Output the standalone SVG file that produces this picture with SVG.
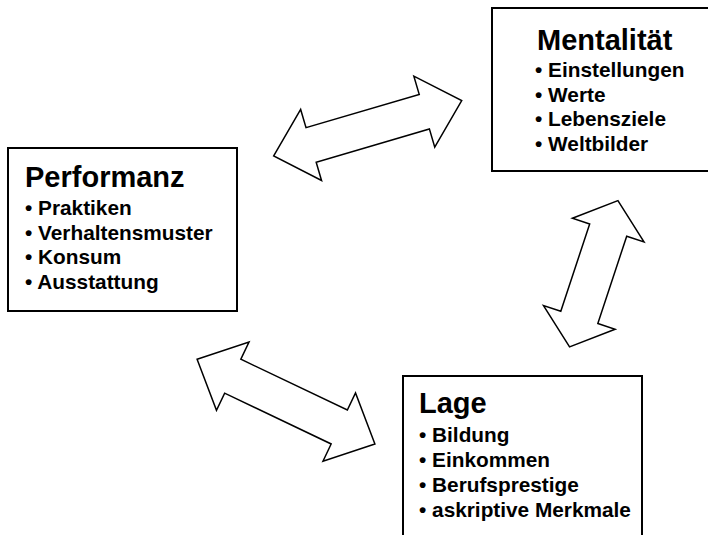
<svg xmlns="http://www.w3.org/2000/svg" width="708" height="535" viewBox="0 0 708 535">
<style>
.box{fill:#fff;stroke:#000;stroke-width:2}
.arr{fill:#fff;stroke:#000;stroke-width:1.5;stroke-linejoin:miter}
text{font-family:"Liberation Sans",Arial,sans-serif;font-weight:bold;fill:#000}
.h{font-size:29px}
.i{font-size:20.8px}
</style>
<rect width="708" height="535" fill="#fff"/>
<g id="connectors">
<polygon class="arr" transform="translate(367.7,128.3) rotate(-16.4)" points="-98,0 -59,-37 -59,-18 59,-18 59,-37 98,0 59,37 59,18 -59,18 -59,37"/>
<polygon class="arr" transform="translate(593.75,273.75) rotate(-71.7)" points="-77,0 -46,-37.7 -46,-19.5 46,-19.5 46,-37.7 77,0 46,37.7 46,19.5 -46,19.5 -46,37.7"/>
<polygon class="arr" transform="translate(286,401.6) rotate(25.5)" points="-98.5,0 -59,-37.8 -59,-18.8 59,-18.8 59,-37.8 98.5,0 59,37.8 59,18.8 -59,18.8 -59,37.8"/>
</g>
<g id="mentalitaet">
<rect class="box" x="492" y="8" width="230" height="163"/>
<text class="h" x="537" y="50">Mentalität</text>
<text class="i" x="535" y="77">• Einstellungen</text>
<text class="i" x="535" y="101.5">• Werte</text>
<text class="i" x="535" y="126">• Lebensziele</text>
<text class="i" x="535" y="150.5">• Weltbilder</text>
</g>
<g id="performanz">
<rect class="box" x="8" y="148" width="229" height="163"/>
<text class="h" x="25" y="187">Performanz</text>
<text class="i" x="25" y="215">• Praktiken</text>
<text class="i" x="25" y="239.5">• Verhaltensmuster</text>
<text class="i" x="25" y="264">• Konsum</text>
<text class="i" x="25" y="288.5">• Ausstattung</text>
</g>
<g id="lage">
<rect class="box" x="403" y="376" width="239" height="180"/>
<text class="h" x="419" y="413">Lage</text>
<text class="i" x="419" y="442">• Bildung</text>
<text class="i" x="419" y="467">• Einkommen</text>
<text class="i" x="419" y="492">• Berufsprestige</text>
<text class="i" x="419" y="517">• askriptive Merkmale</text>
</g>
</svg>
